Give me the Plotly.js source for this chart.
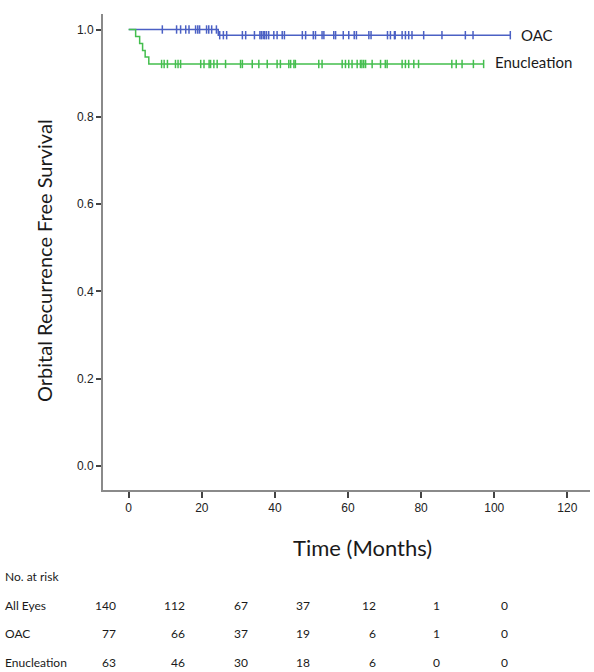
<!DOCTYPE html>
<html>
<head>
<meta charset="utf-8">
<script src="https://cdn.plot.ly/plotly-3.0.1.min.js"></script>
<style>html,body{margin:0;padding:0;background:#fff;}#chart{width:594px;height:672px;}</style>
</head>
<body>
<div id="chart"></div>
<script>
// ---- Data ----
const groupNames = ["OAC", "Enucleation"];
// OAC: events (time, survival after event)
const oacEventTimes = [24.5];
const oacEventSurv = [0.987];
const oacEnd = 104.4;
const oacCensorTimes = [9.2, 13.1, 14.2, 15.6, 16.5, 18.3, 18.9, 19.4, 21.3, 21.9, 22.7, 24.0,
  24.9, 25.9, 26.8, 31.1, 32.0, 34.4, 35.9, 36.3, 36.8, 37.2, 37.7, 38.3, 39.7, 40.6, 42.0, 42.6,
  47.5, 48.4, 50.5, 51.1, 52.9, 53.4, 56.1, 56.6, 58.7, 60.2, 61.7, 62.3, 65.7, 66.3, 70.8, 71.6,
  72.7, 72.9, 74.8, 75.7, 76.6, 77.5, 80.7, 85.7, 92.1, 94.2, 104.4];
// Enucleation
const enuEventTimes = [1.9, 3.0, 3.8, 4.5, 5.5];
const enuEventSurv = [0.984, 0.968, 0.952, 0.937, 0.921];
const enuEnd = 97.1;
const enuCensorTimes = [9.0, 9.7, 10.6, 12.8, 13.5, 14.2, 19.7, 20.6, 22.0, 22.4, 23.3, 24.2, 26.5,
  30.6, 31.1, 33.8, 35.6, 37.9, 40.6, 41.5, 43.8, 44.3, 45.2, 45.6, 52.0, 52.9, 58.4, 59.3, 60.2,
  61.1, 62.5, 63.4, 63.8, 64.3, 64.8, 66.6, 68.9, 70.2, 70.7, 74.8, 75.7, 76.6, 78.0, 79.3, 88.4,
  89.6, 91.2, 94.3, 97.1];
// Number at risk table
const riskRowLabels = ["All Eyes", "OAC", "Enucleation"];
const riskAll = [140, 112, 67, 37, 12, 1, 0];
const riskOAC = [77, 66, 37, 19, 6, 1, 0];
const riskEnu = [63, 46, 30, 18, 6, 0, 0];
const xTicks = [0, 20, 40, 60, 80, 100, 120];
const yTicks = [0, 0.2, 0.4, 0.6, 0.8, 1.0];

// ---- Helpers ----
function stepCurve(evT, evS, end) {
  const xs = [0], ys = [1];
  for (let i = 0; i < evT.length; i++) { xs.push(evT[i]); ys.push(evS[i]); }
  xs.push(end); ys.push(ys[ys.length - 1]);
  return {xs, ys};
}
function survAt(t, evT, evS) {
  let s = 1;
  for (let i = 0; i < evT.length; i++) if (evT[i] <= t) s = evS[i];
  return s;
}
const blue = "#4b60c4", green = "#44be4e";
const oac = stepCurve(oacEventTimes, oacEventSurv, oacEnd);
const enu = stepCurve(enuEventTimes, enuEventSurv, enuEnd);

const traces = [
  {x: oac.xs, y: oac.ys, mode: "lines", line: {shape: "hv", color: blue, width: 1.5}, showlegend: false, hoverinfo: "skip"},
  {x: oacCensorTimes, y: oacCensorTimes.map(t => survAt(t, oacEventTimes, oacEventSurv)), mode: "markers",
   marker: {symbol: "line-ns", size: 6, line: {color: blue, width: 1.5}}, showlegend: false},
  {x: enu.xs, y: enu.ys, mode: "lines", line: {shape: "hv", color: green, width: 1.5}, showlegend: false, hoverinfo: "skip"},
  {x: enuCensorTimes, y: enuCensorTimes.map(t => survAt(t, enuEventTimes, enuEventSurv)), mode: "markers",
   marker: {symbol: "line-ns", size: 6, line: {color: green, width: 1.5}}, showlegend: false}
];

// pixel -> paper conversion for plot area (l=103, t=14, w=487, h=476)
const L = 103, T = 14, W = 487, H = 476;
const px = v => (v - L) / W;
const py = v => (T + H - v) / H;
const txtFont = {family: "Lato, 'Open Sans', sans-serif", color: "#1a1a1a"};

const ann = [];
ann.push({xref: "paper", yref: "paper", x: px(519), y: py(35), xanchor: "left", yanchor: "middle",
  text: groupNames[0], showarrow: false, font: Object.assign({size: 15}, txtFont)});
ann.push({xref: "paper", yref: "paper", x: px(493), y: py(62), xanchor: "left", yanchor: "middle",
  text: groupNames[1], showarrow: false, font: Object.assign({size: 15}, txtFont)});
ann.push({xref: "paper", yref: "paper", x: px(362), y: py(547), xanchor: "center", yanchor: "middle",
  text: "Time (Months)", showarrow: false, font: Object.assign({size: 22}, txtFont)});
ann.push({xref: "paper", yref: "paper", x: px(44), y: py(261), xanchor: "center", yanchor: "middle",
  text: "Orbital Recurrence Free Survival", textangle: -90, showarrow: false, font: Object.assign({size: 20}, txtFont)});
ann.push({xref: "paper", yref: "paper", x: px(3), y: py(576), xanchor: "left", yanchor: "middle",
  text: "No. at risk", showarrow: false, font: Object.assign({size: 12}, txtFont)});
const rowY = [605, 633, 662];
const colRight = [118, 187, 250, 312, 378, 442, 510];
const rows = [riskAll, riskOAC, riskEnu];
rows.forEach((vals, r) => {
  ann.push({xref: "paper", yref: "paper", x: px(3), y: py(rowY[r]), xanchor: "left", yanchor: "middle",
    text: riskRowLabels[r], showarrow: false, font: Object.assign({size: 12}, txtFont)});
  vals.forEach((v, c) => {
    ann.push({xref: "paper", yref: "paper", x: px(colRight[c]), y: py(rowY[r]), xanchor: "right", yanchor: "middle",
      text: String(v), showarrow: false, font: Object.assign({size: 12}, txtFont)});
  });
});

const layout = {
  width: 594, height: 672,
  margin: {l: L, r: 594 - L - W, t: T, b: 672 - T - H, pad: 0},
  paper_bgcolor: "#ffffff", plot_bgcolor: "#ffffff",
  showlegend: false,
  xaxis: {range: [-7.03, 126.2], tickvals: xTicks, ticktext: xTicks.map(String), showgrid: false, zeroline: false,
    showline: true, linecolor: "#8a8a8a", linewidth: 2, ticks: "outside", ticklen: 6, tickwidth: 2, tickcolor: "#444",
    tickfont: {family: "'Liberation Sans', Arial, sans-serif", size: 12, color: "#222"}},
  yaxis: {range: [-0.055, 1.0355], tickvals: yTicks, ticktext: yTicks.map(v => v.toFixed(1)), showgrid: false, zeroline: false,
    showline: true, linecolor: "#8a8a8a", linewidth: 2, ticks: "outside", ticklen: 5, tickwidth: 2, tickcolor: "#444",
    tickfont: {family: "'Liberation Sans', Arial, sans-serif", size: 12, color: "#222"}},
  annotations: ann
};
Plotly.newPlot("chart", traces, layout, {displayModeBar: false, staticPlot: true});
</script>
</body>
</html>
